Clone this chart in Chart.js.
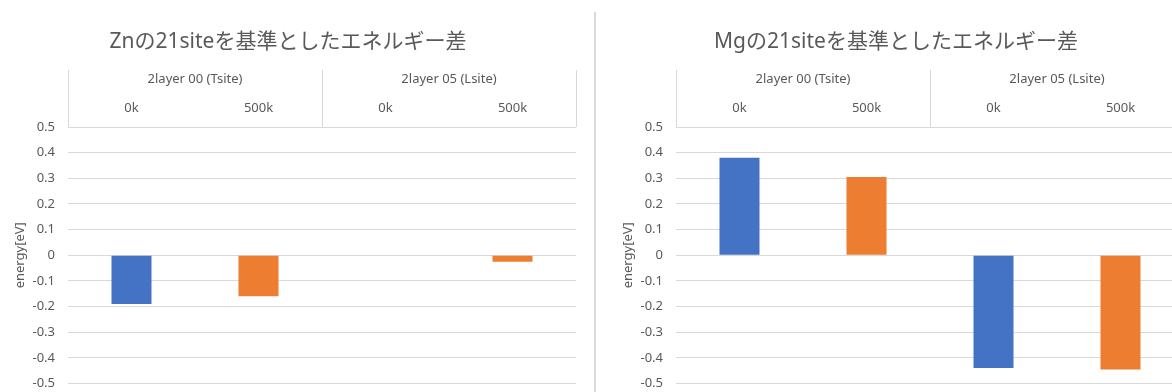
<!DOCTYPE html>
<html>
<head>
<meta charset="utf-8">
<script src="https://cdn.jsdelivr.net/npm/chart.js@4/dist/chart.umd.min.js"></script>
<style>
  html, body { margin: 0; padding: 0; background: #ffffff; }
  #wrap { position: relative; width: 1172px; height: 392px; overflow: hidden; background: #ffffff; }
  #c1 { position: absolute; left: 0; top: 0; }
  #c2 { position: absolute; left: 608px; top: 0; }
  #sep { position: absolute; left: 594px; top: 12px; width: 2px; height: 380px; background: #d9d9d9; }
</style>
</head>
<body>
<div id="wrap">
  <canvas id="c1" width="594" height="392"></canvas>
  <div id="sep"></div>
  <canvas id="c2" width="594" height="392"></canvas>
</div>
<script>
// ---- data ----
const subCategories = ['0k', '500k', '0k', '500k'];
const groupLabels = ['2layer 00 (Tsite)', '2layer 05 (Lsite)'];
const znValues = [-0.19, -0.16, null, -0.025];
const mgValues = [0.38, 0.305, -0.44, -0.445];
const znTitle = 'Znの21siteを基準としたエネルギー差';
const mgTitle = 'Mgの21siteを基準としたエネルギー差';
const yAxisTitle = 'energy[eV]';
const yMin = -0.5, yMax = 0.5, yStep = 0.1;

// ---- styles ----
const BLUE = '#4472C4', ORANGE = '#ED7D31';
const TEXT = '#595959', GRID = '#d9d9d9';
const FONT = '"Noto Sans", "Noto Sans CJK JP", sans-serif';

const groupBoxPlugin = {
  id: 'groupBox',
  afterDraw(chart) {
    const x = chart.scales.x, x2 = chart.scales.x2;
    const ctx = chart.ctx;
    const n = subCategories.length;
    const per = n / groupLabels.length;
    const cw = x.getPixelForValue(1) - x.getPixelForValue(0);
    ctx.save();
    ctx.strokeStyle = GRID;
    ctx.lineWidth = 1;
    for (let g = 0; g <= groupLabels.length; g++) {
      const idx = g * per;
      const px = idx < n ? x.getPixelForValue(idx) - cw / 2 : x.getPixelForValue(n - 1) + cw / 2;
      const xx = Math.round(px) + 0.5;
      ctx.beginPath();
      ctx.moveTo(xx, x2.top);
      ctx.lineTo(xx, chart.chartArea.top);
      ctx.stroke();
    }
    ctx.restore();
  }
};

function makeChart(id, title, values) {
  return new Chart(document.getElementById(id), {
    type: 'bar',
    data: {
      labels: subCategories,
      datasets: [{
        data: values,
        backgroundColor: subCategories.map((c, i) => i % 2 === 0 ? BLUE : ORANGE),
        borderWidth: 0,
        categoryPercentage: 1,
        barPercentage: 0.315
      }]
    },
    options: {
      responsive: false,
      animation: false,
      layout: { padding: { left: 0, right: 18, top: 0, bottom: 8.5 } },
      plugins: {
        legend: { display: false },
        tooltip: { enabled: false },
        title: {
          display: true,
          text: title,
          color: TEXT,
          font: { family: FONT, size: 21, weight: 'normal' },
          padding: { top: 29, bottom: 15.8 }
        }
      },
      scales: {
        x: {
          position: 'top',
          grid: { display: false, drawTicks: false },
          border: { display: false },
          ticks: { color: TEXT, font: { family: FONT, size: 13 }, padding: 10.5, maxRotation: 0 },
          afterFit(s) { s.height = 35; }
        },
        x2: {
          type: 'category',
          position: 'top',
          labels: groupLabels,
          offset: true,
          grid: { display: false, drawTicks: false },
          border: { display: false },
          ticks: { color: TEXT, font: { family: FONT, size: 13 }, padding: 4.5, maxRotation: 0 },
          afterFit(s) { s.height = 22; }
        },
        y: {
          min: yMin,
          max: yMax,
          grid: { color: GRID, lineWidth: 1, drawTicks: false },
          border: { display: false },
          ticks: { stepSize: yStep, color: TEXT, font: { family: FONT, size: 13 }, padding: 13 },
          title: {
            display: true,
            text: yAxisTitle,
            color: TEXT,
            font: { family: FONT, size: 13 },
            padding: { top: 12, bottom: 0 }
          },
          afterFit(s) { s.width = 68; s.paddingTop = 0; s.paddingBottom = 0; }
        }
      }
    },
    plugins: [groupBoxPlugin]
  });
}

makeChart('c1', znTitle, znValues);
makeChart('c2', mgTitle, mgValues);
</script>
</body>
</html>
